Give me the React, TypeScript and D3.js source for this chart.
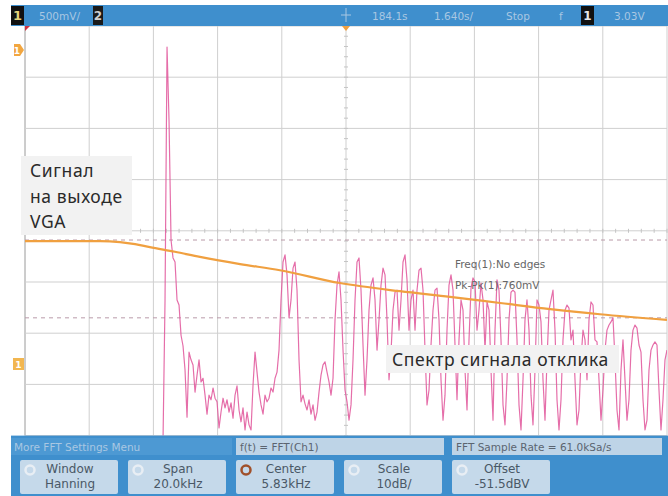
import React from "react";
import * as d3 from "d3";

// ---- FFT settings (from the on-screen menu) ----
const CENTER_KHZ = 5.83;
const SPAN_KHZ = 20;
const SCALE_DB = 10;
const OFFSET_DBV = -51.5;
const H_DIVS = 10;
const V_DIVS = 8;

// ---- Spectrum of the response signal (FFT bins) ----
const FFT_START_KHZ = 0.13;
const FFT_BIN_KHZ = 0.0623;
const spectrumDbv = [
  -92.4, -65.0, -15.6, -29.9, -53.3, -56.8, -57.6, -65.0, -66.0, -71.9,
  -74.0, -78.7, -87.9, -75.2, -76.7, -77.7, -83.0, -79.7, -76.7, -81.0,
  -80.3, -83.6, -87.3, -83.6, -84.5, -82.2, -84.2, -84.9, -90.0, -86.9,
  -84.2, -86.1, -84.5, -86.9, -85.1, -88.1, -83.6, -81.8, -86.5, -88.8,
  -86.1, -90.4, -86.9, -89.4, -90.4, -81.6, -75.2, -79.1, -83.0, -85.5,
  -87.3, -83.6, -84.9, -84.2, -82.2, -83.0, -80.3, -79.1, -74.8, -65.0,
  -57.6, -56.2, -60.1, -68.5, -65.0, -58.8, -57.6, -63.1, -76.7, -84.9,
  -83.6, -85.3, -86.5, -84.5, -87.3, -85.5, -88.5, -86.9, -83.0, -79.7,
  -77.7, -77.1, -79.1, -81.0, -83.6, -80.3, -68.9, -62.1, -59.5, -65.0,
  -74.8, -82.6, -84.9, -88.5, -85.5, -76.7, -65.0, -57.6, -56.8, -63.1,
  -73.8, -83.6, -76.7, -67.0, -62.1, -60.7, -65.0, -74.8, -68.9, -62.1,
  -58.8, -60.1, -68.9, -80.6, -75.2, -67.0, -63.5, -63.1, -70.9, -65.0,
  -57.6, -56.2, -61.1, -70.9, -65.0, -63.1, -70.9, -63.1, -59.2, -58.8,
  -63.1, -74.8, -85.5, -82.6, -73.8, -67.0, -63.1, -62.7, -68.9, -80.6,
  -88.5, -83.6, -70.9, -62.1, -60.1, -63.1, -73.8, -84.5, -72.8, -65.0,
  -67.0, -78.7, -86.5, -72.8, -62.7, -60.7, -61.5, -70.9, -67.0, -61.7,
  -65.0, -74.8, -65.4, -67.0, -78.7, -88.5, -70.9, -61.1, -63.1, -72.8,
  -85.5, -89.4, -80.6, -68.9, -63.5, -63.1, -63.5, -72.8, -85.5, -90.4,
  -80.6, -68.9, -65.0, -70.9, -83.6, -89.4, -78.7, -65.0, -66.0, -69.3,
  -80.6, -88.5, -76.7, -67.0, -65.0, -63.1, -70.9, -84.5, -90.4, -84.5,
  -72.8, -67.0, -66.0, -66.6, -72.8, -70.9, -80.6, -89.4, -86.5, -76.7,
  -70.9, -72.8, -80.6, -68.9, -65.4, -66.0, -72.8, -73.2, -80.6, -88.5,
  -82.6, -74.8, -70.9, -69.9, -69.3, -68.5, -76.7, -86.5, -90.4, -78.7,
  -72.8, -80.6, -88.5, -84.5, -74.8, -70.9, -69.9, -70.5, -73.8, -75.2,
  -84.5, -90.4, -88.5, -78.7, -74.8, -73.8, -73.2, -73.8, -82.6, -90.4,
  -84.5, -76.7, -74.8,
];

// ---- VGA output trace (channel 1) ----
const vgaFreqKhz = [-4.17, -3.08, -1.83, -1.21, -0.74, -0.28, 0.5, 1.28, 2.53, 3.77, 5.64, 7.51, 9.07, 10.63, 12.19, 13.74, 15.83];
const vgaLevelDbv = [-53.5, -53.5, -53.5, -53.7, -54.1, -54.7, -55.6, -56.6, -58.0, -59.2, -61.7, -63.3, -64.4, -65.6, -66.8, -67.8, -68.9];

// ---- Pk-Pk cursor levels ----
const cursorLevelsDbv = [-53.3, -68.5];

// ---- Texts ----
const topBarLabels = ["184.1s", "1.640s/", "Stop", "f", "3.03V"];
const measureLines = ["Freq(1):No edges", "Pk-Pk(1):760mV"];
const softkeyTop = ["Window", "Span", "Center", "Scale", "Offset"];
const softkeyBottom = ["Hanning", "20.0kHz", "5.83kHz", "10dB/", "-51.5dBV"];
const vgaLabel = ["Сигнал", "на выходе", "VGA"];
const spectrumLabel = "Спектр сигнала отклика";

const W = 668;
const H = 496;
const GX0 = 25, GX1 = 667, GY0 = 26, GY1 = 435.6;

export default function App() {
  const x = d3.scaleLinear()
    .domain([CENTER_KHZ - SPAN_KHZ / 2, CENTER_KHZ + SPAN_KHZ / 2])
    .range([GX0, GX1]);
  const y = d3.scaleLinear()
    .domain([OFFSET_DBV + (V_DIVS / 2) * SCALE_DB, OFFSET_DBV - (V_DIVS / 2) * SCALE_DB])
    .range([GY0, GY1]);

  const fStep = SPAN_KHZ / H_DIVS;
  const vLines = d3.range(H_DIVS + 1).map((i) => x(x.domain()[0] + i * fStep));
  const hLines = d3.range(V_DIVS + 1).map((i) => y(y.domain()[0] - i * SCALE_DB));
  const cx = x(CENTER_KHZ);
  const cy = y(OFFSET_DBV);

  const spectrumPath = d3.line<number>()
    .x((_, i) => x(FFT_START_KHZ + i * FFT_BIN_KHZ))
    .y((d) => y(d))(spectrumDbv) || "";

  const vgaPath = d3.line<number>()
    .x((_, i) => x(vgaFreqKhz[i]))
    .y((d) => y(d))
    .curve(d3.curveMonotoneX)(vgaLevelDbv) || "";

  const minorX = d3.range(0, H_DIVS * 5 + 1).map((i) => GX0 + (i * (GX1 - GX0)) / (H_DIVS * 5));
  const minorY = d3.range(0, V_DIVS * 5 + 1).map((i) => GY0 + (i * (GY1 - GY0)) / (V_DIVS * 5));

  const topFont = "'DejaVu Sans', sans-serif";
  const labelFont = "'Noto Sans', sans-serif";
  const blue = "#3f8fcd";
  const topText = "#a9c7e2";

  const topBarX = [372, 434, 506, 559, 614];

  return (
    <svg width={W} height={H} style={{ position: "absolute", left: 0, top: 0, display: "block" }} xmlns="http://www.w3.org/2000/svg">
      <rect x={0} y={0} width={W} height={H} fill="#ffffff" />
      <defs>
        <clipPath id="plotClip">
          <rect x={GX0} y={GY0} width={GX1 - GX0} height={GY1 - GY0} />
        </clipPath>
      </defs>

      {/* grid */}
      {vLines.map((vx, i) => (
        <line key={"v" + i} x1={vx} x2={vx} y1={GY0} y2={GY1} stroke={i === 0 ? "#9a9a9a" : "#cfcfcf"} strokeWidth={1} />
      ))}
      {hLines.map((hy, i) => (
        <line key={"h" + i} x1={GX0} x2={GX1} y1={hy} y2={hy} stroke="#cfcfcf" strokeWidth={1} />
      ))}
      {minorX.map((mx, i) => (
        <line key={"mx" + i} x1={mx} x2={mx} y1={cy - 2} y2={cy + 2} stroke="#c4c4c4" strokeWidth={1} />
      ))}
      {minorY.map((my, i) => (
        <line key={"my" + i} x1={cx - 2} x2={cx + 2} y1={my} y2={my} stroke="#c4c4c4" strokeWidth={1} />
      ))}

      {/* cursor dashed lines */}
      {cursorLevelsDbv.map((c, i) => (
        <line key={"c" + i} x1={GX0} x2={GX1} y1={y(c)} y2={y(c)} stroke="#b99aa9" strokeWidth={1} strokeDasharray="4,4" />
      ))}

      {/* traces */}
      <g clipPath="url(#plotClip)">
        <path d={spectrumPath} fill="none" stroke="#e0559a" strokeWidth={1.2} strokeOpacity={0.85} strokeLinejoin="round" />
        <path d={vgaPath} fill="none" stroke="#f0a040" strokeWidth={2.2} />
      </g>

      {/* measurement text */}
      {measureLines.map((t, i) => (
        <text key={"m" + i} x={455} y={268 + i * 21} fontFamily={topFont} fontSize={10.5} fill="#666">{t}</text>
      ))}

      {/* top bar */}
      <rect x={11} y={5} width={W - 11} height={21} fill={blue} />
      <rect x={11} y={6} width={13} height={19} fill="#111" />
      <text x={17.5} y={20} textAnchor="middle" fontFamily={topFont} fontSize={13} fontWeight="bold" fill="#e3d27a">1</text>
      <text x={39} y={20} fontFamily={topFont} fontSize={10.5} fill={topText}>500mV/</text>
      <rect x={93} y={6} width={10} height={19} fill="#1a1a1a" />
      <text x={98} y={20} textAnchor="middle" fontFamily={topFont} fontSize={12} fontWeight="bold" fill="#cfcfcf">2</text>
      <line x1={cx} x2={cx} y1={8} y2={22} stroke={topText} strokeWidth={1} />
      <line x1={cx - 5} x2={cx + 5} y1={15} y2={15} stroke={topText} strokeWidth={1} />
      {topBarLabels.map((t, i) => (
        <text key={"tb" + i} x={topBarX[i]} y={20} fontFamily={topFont} fontSize={10.5} fill={topText}>{t}</text>
      ))}
      <rect x={581} y={6} width={13} height={19} fill="#111" />
      <text x={587.5} y={20} textAnchor="middle" fontFamily={topFont} fontSize={12} fontWeight="bold" fill="#e8e8e8">1</text>

      {/* markers */}
      <path d={`M${cx - 4},${GY0} L${cx + 4},${GY0} L${cx},${GY0 + 5} Z`} fill="#f0a040" />
      <path d={`M${GX0},${GY0} L${GX0 + 5},${GY0} L${GX0},${GY0 + 5} Z`} fill="#d03040" />
      <path d="M14,44 L20,44 L24,50 L20,56 L14,56 Z" fill="#f2a640" />
      <text x={17} y={54} textAnchor="middle" fontFamily={topFont} fontSize={9} fontWeight="bold" fill="#fff">1</text>
      <rect x={13} y={358} width={11} height={12} fill="#f2b650" />
      <text x={18.5} y={368} textAnchor="middle" fontFamily={topFont} fontSize={9} fontWeight="bold" fill="#fff">1</text>

      {/* bottom menu */}
      <rect x={11} y={435.6} width={W - 11} height={H - 435.6} fill={blue} />
      <rect x={11} y={438} width={221} height={17} fill="#4d99d3" />
      <text x={14} y={451} fontFamily={topFont} fontSize={10.5} fill={topText}>More FFT Settings Menu</text>
      <rect x={236} y={438} width={208} height={17} fill="#bed4e7" />
      <text x={240} y={451} fontFamily={topFont} fontSize={10.5} fill="#5b6470">f(t) = FFT(Ch1)</text>
      <rect x={452} y={438} width={210} height={17} fill="#bed4e7" />
      <text x={456} y={451} fontFamily={topFont} fontSize={10.5} fill="#5b6470">FFT Sample Rate = 61.0kSa/s</text>
      {softkeyTop.map((t, i) => {
        const bx = 20 + i * 108;
        return (
          <g key={"sk" + i}>
            <rect x={bx} y={460} width={98} height={34} rx={2} fill="#c5d9ea" />
            <circle cx={bx + 10} cy={470} r={4.5} fill="none" stroke={i === 2 ? "#a0502a" : "#e8eef4"} strokeWidth={2.5} />
            <text x={bx + 50} y={473} textAnchor="middle" fontFamily={topFont} fontSize={12} fill="#4a5866">{t}</text>
            <text x={bx + 50} y={488} textAnchor="middle" fontFamily={topFont} fontSize={12} fill="#4a5866">{softkeyBottom[i]}</text>
          </g>
        );
      })}

      {/* annotations */}
      <rect x={21} y={156} width={111} height={79} fill="#f2f2f2" />
      {vgaLabel.map((t, i) => (
        <text key={"vl" + i} x={30} y={177 + i * 25.5} fontFamily={labelFont} fontSize={17.5} letterSpacing={0.6} fill="#2a2a2a">{t}</text>
      ))}
      <rect x={386} y={345} width={233} height={28} fill="#f2f2f2" />
      <text x={392} y={366} fontFamily={labelFont} fontSize={17.5} letterSpacing={0.6} fill="#2a2a2a">{spectrumLabel}</text>
    </svg>
  );
}
